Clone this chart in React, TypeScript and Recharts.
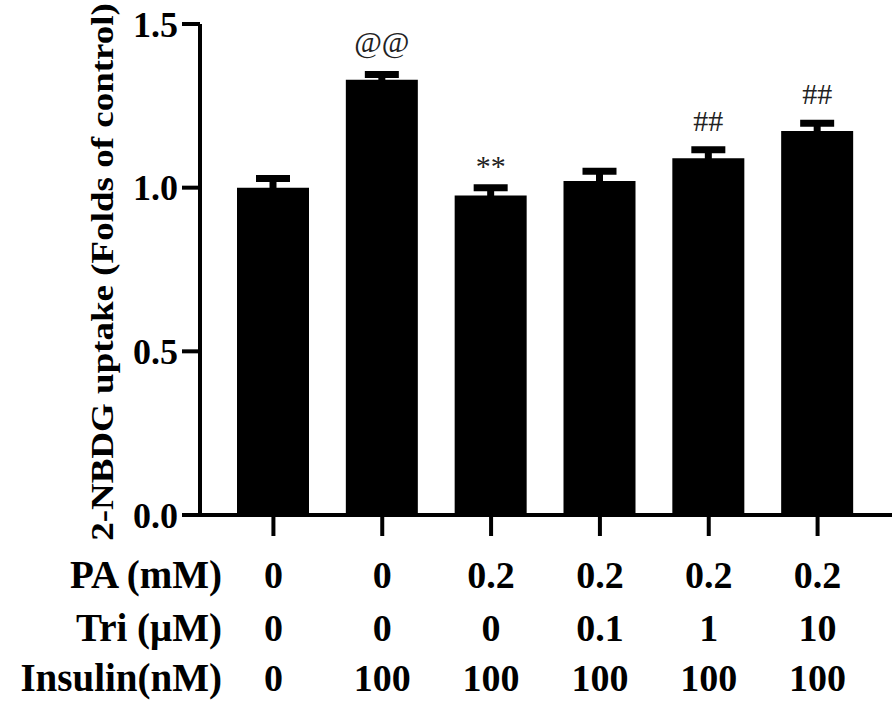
import { BarChart, Bar, XAxis, YAxis, ErrorBar, LabelList } from 'recharts';

const groups = ['g1', 'g2', 'g3', 'g4', 'g5', 'g6'];
const paLevels = ['0', '0', '0.2', '0.2', '0.2', '0.2'];
const triLevels = ['0', '0', '0', '0.1', '1', '10'];
const insulinLevels = ['0', '100', '100', '100', '100', '100'];
const uptake = [1.0, 1.33, 0.976, 1.02, 1.09, 1.173];
const sem = [0.028, 0.016, 0.024, 0.03, 0.026, 0.024];
const marks = ['', '@@', '**', '', '##', '##'];
const yTicks = [0, 0.5, 1.0, 1.5];
const rowNames = ['PA (mM)', 'Tri (μM)', 'Insulin(nM)'];

const data = groups.map((g, i) => ({
  name: g,
  value: uptake[i],
  err: sem[i],
  mark: marks[i],
}));

const FONT = '"Times New Roman", "Liberation Serif", serif';
const ROW_Y = [588, 641, 691];

function GroupTick(props: any) {
  const { x, payload } = props;
  const i = payload.index;
  const rows = [paLevels[i], triLevels[i], insulinLevels[i]];
  return (
    <g>
      {rows.map((v, r) => (
        <text key={r} x={x} y={ROW_Y[r]} textAnchor="middle" fontFamily={FONT} fontWeight="bold" fontSize={38} fill="#000">
          {v}
        </text>
      ))}
      {i === 0 &&
        rowNames.map((n, r) => (
          <text key={'n' + r} x={222} y={ROW_Y[r]} textAnchor="end" fontFamily={FONT} fontWeight="bold" fontSize={39} fill="#000">
            {n}
          </text>
        ))}
    </g>
  );
}

function MarkLabel(props: any) {
  const { x, y, width, value } = props;
  if (!value) return null;
  const dy = value.includes('*') ? 8 : 0;
  return (
    <text x={x + width / 2} y={y - 38 + dy} textAnchor="middle" dominantBaseline="central" fontFamily={FONT} fontSize={30} fill="#222">
      {value}
    </text>
  );
}

function YLabel() {
  return (
    <text
      transform="translate(102 272) scale(0.85 1) rotate(-90)"
      textAnchor="middle"
      dominantBaseline="central"
      fontFamily={FONT}
      fontWeight="bold"
      fontSize={37}
      fill="#000"
    >
      2-NBDG uptake (Folds of control)
    </text>
  );
}

export default function App() {
  return (
    <div style={{ position: 'absolute', left: 0, top: 0, width: 896, height: 703, background: '#fff' }}>
      <BarChart width={896} height={703} data={data} margin={{ top: 24, right: 4, bottom: 0, left: 0 }}>
        <XAxis
          dataKey="name"
          height={188}
          padding={{ left: 19, right: 20 }}
          axisLine={{ stroke: '#000', strokeWidth: 4 }}
          tickLine={{ stroke: '#000', strokeWidth: 4 }}
          tickSize={21}
          tick={<GroupTick />}
          interval={0}
        />
        <YAxis
          domain={[0, 1.5]}
          ticks={yTicks}
          width={200}
          allowDataOverflow
          tickFormatter={(v: number) => v.toFixed(1)}
          axisLine={{ stroke: '#000', strokeWidth: 4 }}
          tickLine={{ stroke: '#000', strokeWidth: 4 }}
          tickSize={18}
          tickMargin={4}
          tick={{ fontFamily: FONT, fontWeight: 'bold', fontSize: 36, fill: '#000' }}
          label={<YLabel />}
        />
        <Bar dataKey="value" fill="#000" barSize={72} isAnimationActive={false}>
          <ErrorBar dataKey="err" width={17} strokeWidth={7} stroke="#000" direction="y" isAnimationActive={false} />
          <LabelList dataKey="mark" content={<MarkLabel />} />
        </Bar>
      </BarChart>
    </div>
  );
}
